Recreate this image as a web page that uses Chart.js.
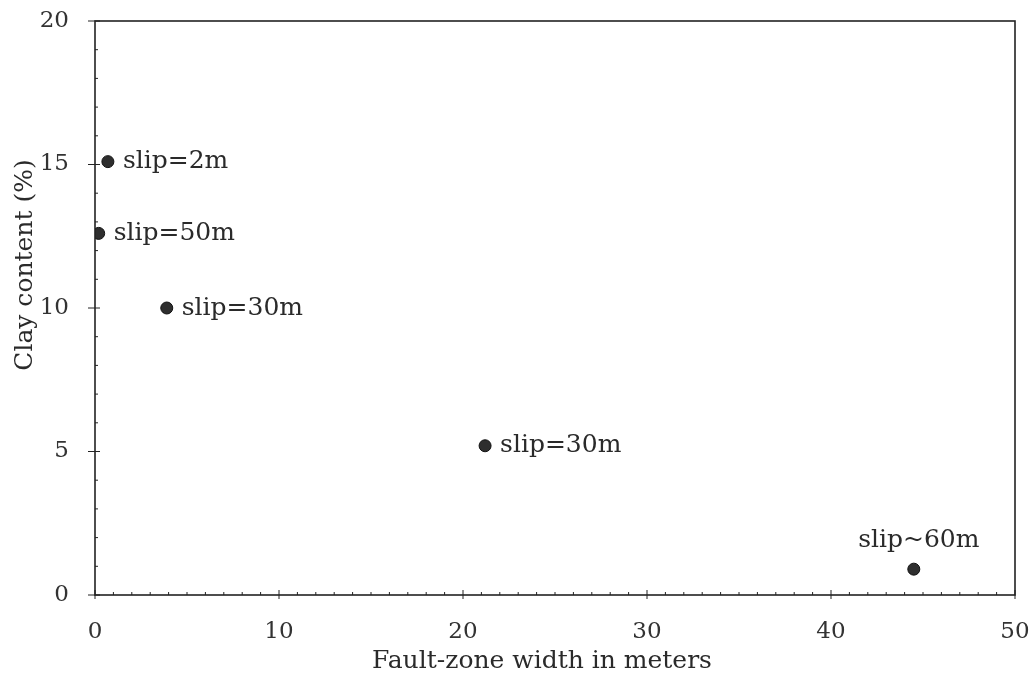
<!DOCTYPE html>
<html>
<head>
<meta charset="utf-8">
<script src="https://cdn.jsdelivr.net/npm/chart.js@4"></script>
<style>
  html, body { margin: 0; padding: 0; background: #fff; }
  #wrap { width: 1031px; height: 686px; }
</style>
</head>
<body>
<div id="wrap"><canvas id="faultChart"></canvas></div>
<script>
// data
const widths = [0.7, 0.2, 3.9, 21.2, 44.5];
const clay = [15.1, 12.6, 10.0, 5.2, 0.9];
const slipLabels = ['slip=2m', 'slip=50m', 'slip=30m', 'slip=30m', 'slip~60m'];
const xTicks = [0, 10, 20, 30, 40, 50];
const yTicks = [0, 5, 10, 15, 20];
const xTitle = 'Fault-zone width in meters';
const yTitle = 'Clay content (%)';

const FONT = "'DejaVu Serif', 'Liberation Serif', serif";
const INK = '#2a2a2a';

// frame, tick marks, axis titles and point labels
const framePlugin = {
    id: 'frame',
    afterDraw(chart) {
        const ctx = chart.ctx;
        const a = chart.chartArea;
        const xs = chart.scales.x;
        const ys = chart.scales.y;
        ctx.save();
        ctx.strokeStyle = '#222';
        ctx.lineWidth = 1.6;
        ctx.strokeRect(a.left, a.top, a.right - a.left, a.bottom - a.top);

        ctx.lineWidth = 1;
        // x ticks: minor every unit, majors cross the axis
        for (let v = xs.min; v <= xs.max; v++) {
            const px = xs.getPixelForValue(v);
            const major = xTicks.includes(v);
            ctx.beginPath();
            ctx.moveTo(px, a.bottom + (major ? 4 : 0));
            ctx.lineTo(px, a.bottom - (major ? 5 : 3));
            ctx.stroke();
        }
        // y ticks
        for (let v = ys.min; v <= ys.max; v++) {
            const py = ys.getPixelForValue(v);
            const major = yTicks.includes(v);
            ctx.beginPath();
            ctx.moveTo(a.left - (major ? 7 : 0), py);
            ctx.lineTo(a.left + (major ? 5 : 3), py);
            ctx.stroke();
        }

        ctx.font = '25px ' + FONT;
        ctx.fillStyle = INK;
        ctx.textBaseline = 'middle';

        // axis titles (sit a bit left / above centre in the original)
        ctx.textAlign = 'center';
        ctx.fillText(xTitle, (a.left + a.right) / 2 - 13, 661);
        ctx.save();
        ctx.translate(25, (a.top + a.bottom) / 2 - 43);
        ctx.rotate(-Math.PI / 2);
        ctx.fillText(yTitle, 0, 0);
        ctx.restore();

        // point labels
        const meta = chart.getDatasetMeta(0);
        meta.data.forEach(function(pt, i) {
            const text = slipLabels[i];
            const w = ctx.measureText(text).width;
            if (pt.x + 15 + w > a.right) {
                ctx.textAlign = 'center';
                ctx.fillText(text, pt.x + 5, pt.y - 29);
            } else {
                ctx.textAlign = 'left';
                ctx.fillText(text, pt.x + 15, pt.y);
            }
        });
        ctx.restore();
    }
};

const ctx = document.getElementById('faultChart').getContext('2d');
new Chart(ctx, {
    type: 'scatter',
    data: {
        datasets: [{
            data: widths.map(function(w, i) { return { x: w, y: clay[i] }; }),
            pointRadius: 6,
            pointBackgroundColor: '#2e2e2e',
            pointBorderColor: '#111',
            pointBorderWidth: 1
        }]
    },
    options: {
        responsive: true,
        maintainAspectRatio: false,
        animation: false,
        layout: { padding: { top: 21, right: 16, left: 0, bottom: 0 } },
        plugins: {
            legend: { display: false },
            tooltip: { enabled: false }
        },
        scales: {
            x: {
                type: 'linear',
                min: 0,
                max: 50,
                afterBuildTicks: function(scale) {
                    scale.ticks = xTicks.map(function(v) { return { value: v }; });
                },
                afterFit: function(scale) {
                    scale.height = 91;
                    scale.paddingLeft = 0;
                    scale.paddingRight = 0;
                },
                grid: { display: false, drawTicks: false },
                border: { display: false },
                ticks: {
                    padding: 23,
                    maxRotation: 0,
                    color: '#333',
                    font: { family: FONT, size: 23 }
                }
            },
            y: {
                type: 'linear',
                min: 0,
                max: 20,
                afterBuildTicks: function(scale) {
                    scale.ticks = yTicks.map(function(v) { return { value: v }; });
                },
                afterFit: function(scale) {
                    scale.width = 95;
                    scale.paddingTop = 0;
                    scale.paddingBottom = 0;
                },
                grid: { display: false, drawTicks: false },
                border: { display: false },
                ticks: {
                    padding: 26,
                    color: '#333',
                    font: { family: FONT, size: 23 }
                }
            }
        }
    },
    plugins: [framePlugin]
});
</script>
</body>
</html>
